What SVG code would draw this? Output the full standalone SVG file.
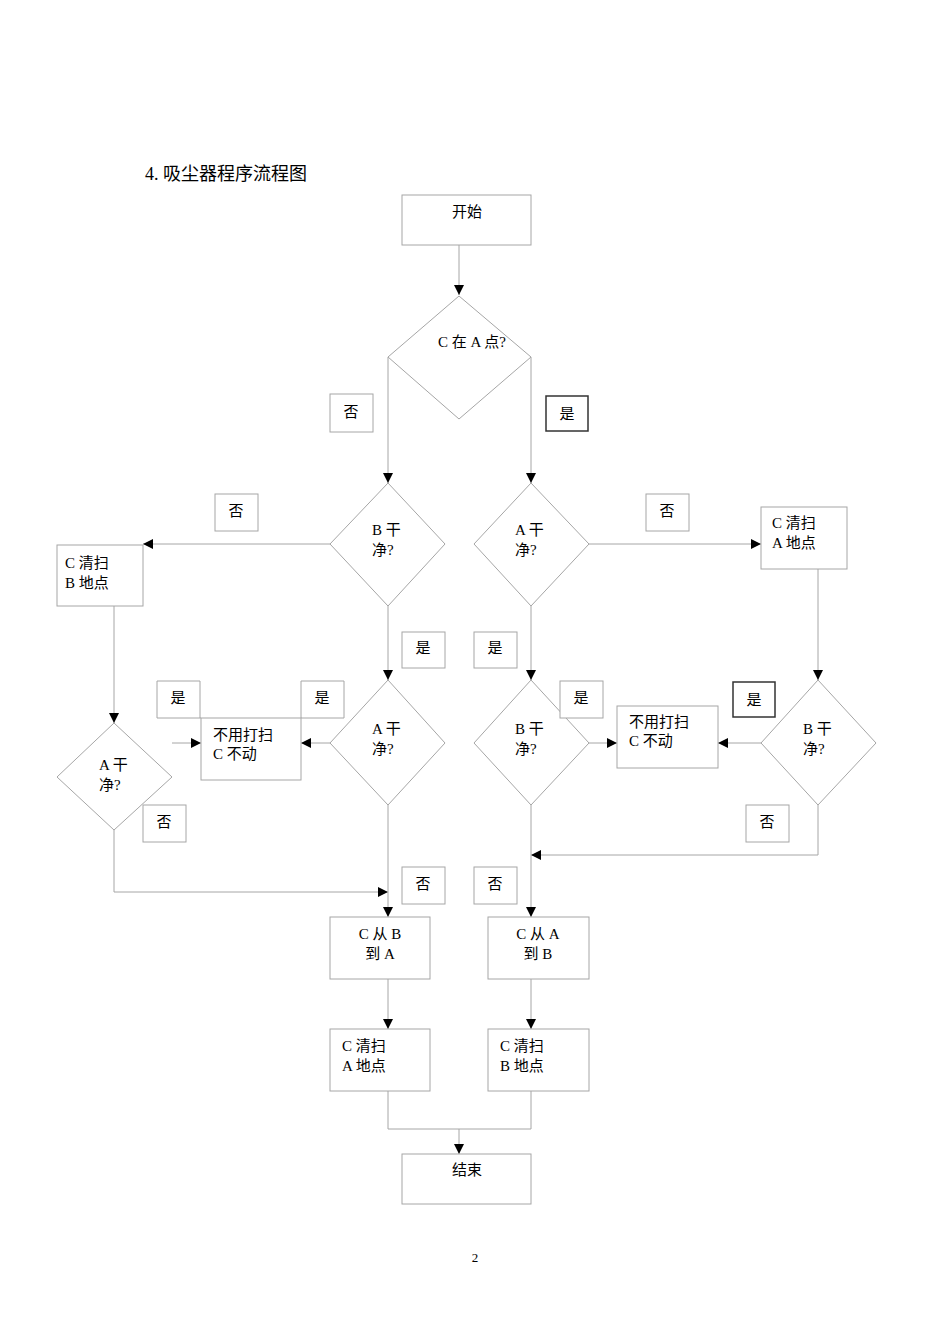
<svg xmlns="http://www.w3.org/2000/svg" width="950" height="1344" viewBox="0 0 950 1344">
<defs>
<marker id="ah" viewBox="0 0 10 10" refX="10" refY="5" markerWidth="10" markerHeight="10" markerUnits="userSpaceOnUse" orient="auto"><path d="M0,0L10,5L0,10z" fill="#000"/></marker>
<style>
.s{fill:#fff;stroke:#a6a6a6;stroke-width:1}
.b{fill:#fff;stroke:#333;stroke-width:1.5}
.c{fill:none;stroke:#a6a6a6;stroke-width:1}
.a{fill:none;stroke:#a6a6a6;stroke-width:1;marker-end:url(#ah)}
text{font-family:"Liberation Serif","Noto Sans CJK SC",serif;font-size:15px;fill:#000}
.m{text-anchor:middle}
</style>
</defs>
<rect width="950" height="1344" fill="#fff"/>
<text x="145" y="180" style="font-size:18px">4. 吸尘器程序流程图</text>
<g id="connectors">
<path class="a" d="M459,245V295"/>
<path class="a" d="M388,357V483"/>
<path class="a" d="M531,357V483"/>
<path class="a" d="M330,544H143"/>
<path class="a" d="M589,544H761"/>
<path class="a" d="M114,606V723"/>
<path class="a" d="M388,606V680"/>
<path class="a" d="M531,606V680"/>
<path class="a" d="M818,569V680"/>
<path class="a" d="M330,743H301"/>
<path class="a" d="M172,743H201"/>
<path class="a" d="M589,743H617"/>
<path class="a" d="M761,743H718"/>
<path class="a" d="M114,830V892H388"/>
<path class="a" d="M818,805V855H531"/>
<path class="a" d="M388,805V917"/>
<path class="a" d="M531,805V917"/>
<path class="a" d="M388,979V1029"/>
<path class="a" d="M531,979V1029"/>
<path class="c" d="M388,1091V1129H531V1091"/>
<path class="a" d="M459,1129V1154"/>
</g>
<g id="start"><rect class="s" x="402" y="195" width="129" height="50"/><text class="m" x="467" y="217">开始</text></g>
<g id="d1"><path class="s" d="M459,296L531,357L459,419L388,357z"/><text class="m" x="472" y="347">C 在 A 点?</text></g>
<g id="l1"><rect class="s" x="330" y="394" width="43" height="38"/><text class="m" x="351" y="417">否</text></g>
<g id="l2"><rect class="b" x="546" y="396" width="42" height="35"/><text class="m" x="567" y="419">是</text></g>
<g id="d2"><path class="s" d="M388,483L445,544L388,606L330,544z"/><text x="372" y="535">B 干</text><text x="372" y="555">净?</text></g>
<g id="d3"><path class="s" d="M531,483L589,544L531,606L474,544z"/><text x="515" y="535">A 干</text><text x="515" y="555">净?</text></g>
<g id="l3"><rect class="s" x="215" y="494" width="43" height="37"/><text class="m" x="236" y="516">否</text></g>
<g id="l4"><rect class="s" x="646" y="494" width="43" height="37"/><text class="m" x="667" y="516">否</text></g>
<g id="cb"><rect class="s" x="57" y="545" width="86" height="61"/><text x="65" y="568">C 清扫</text><text x="65" y="588">B 地点</text></g>
<g id="ca"><rect class="s" x="761" y="507" width="86" height="62"/><text x="772" y="528">C 清扫</text><text x="772" y="548">A 地点</text></g>
<g id="d4"><path class="s" d="M114,723L172,777L114,830L57,777z"/><text x="99" y="770">A 干</text><text x="99" y="790">净?</text></g>
<g id="d5"><path class="s" d="M388,680L445,743L388,805L330,743z"/><text x="372" y="734">A 干</text><text x="372" y="754">净?</text></g>
<g id="d6"><path class="s" d="M531,680L589,743L531,805L474,743z"/><text x="515" y="734">B 干</text><text x="515" y="754">净?</text></g>
<g id="d7"><path class="s" d="M818,680L876,743L818,805L761,743z"/><text x="803" y="734">B 干</text><text x="803" y="754">净?</text></g>
<g id="l5"><rect class="s" x="402" y="632" width="43" height="36"/><text class="m" x="423" y="653">是</text></g>
<g id="l6"><rect class="s" x="474" y="632" width="43" height="36"/><text class="m" x="495" y="653">是</text></g>
<g id="n1"><rect class="s" x="201" y="718" width="100" height="62"/><text x="213" y="740">不用打扫</text><text x="213" y="759">C 不动</text></g>
<g id="l7"><path class="c" d="M157,718V681H200V718"/><path class="c" d="M157,718H201"/><text class="m" x="178" y="703">是</text></g>
<g id="l8"><path class="c" d="M301,681H344V718H301"/><path class="c" d="M301,718V681"/><text class="m" x="322" y="703">是</text></g>
<g id="n2"><rect class="s" x="617" y="706" width="101" height="62"/><text x="629" y="727">不用打扫</text><text x="629" y="746">C 不动</text></g>
<g id="l9"><rect class="s" x="560" y="681" width="43" height="37"/><text class="m" x="581" y="703">是</text></g>
<g id="l10"><rect class="b" x="733" y="682" width="42" height="35"/><text class="m" x="754" y="705">是</text></g>
<g id="l11"><rect class="s" x="143" y="805" width="43" height="37"/><text class="m" x="164" y="827">否</text></g>
<g id="l12"><rect class="s" x="746" y="805" width="43" height="37"/><text class="m" x="767" y="827">否</text></g>
<g id="l13"><rect class="s" x="402" y="867" width="43" height="37"/><text class="m" x="423" y="889">否</text></g>
<g id="l14"><rect class="s" x="474" y="867" width="43" height="37"/><text class="m" x="495" y="889">否</text></g>
<g id="m1"><rect class="s" x="330" y="917" width="100" height="62"/><text class="m" x="380" y="939">C 从 B</text><text class="m" x="380" y="959">到 A</text></g>
<g id="m2"><rect class="s" x="488" y="917" width="101" height="62"/><text class="m" x="538" y="939">C 从 A</text><text class="m" x="538" y="959">到 B</text></g>
<g id="e1"><rect class="s" x="330" y="1029" width="100" height="62"/><text x="342" y="1051">C 清扫</text><text x="342" y="1071">A 地点</text></g>
<g id="e2"><rect class="s" x="488" y="1029" width="101" height="62"/><text x="500" y="1051">C 清扫</text><text x="500" y="1071">B 地点</text></g>
<g id="end"><rect class="s" x="402" y="1154" width="129" height="50"/><text class="m" x="467" y="1175">结束</text></g>
<text class="m" x="475" y="1262" style="font-size:13px">2</text>
</svg>
